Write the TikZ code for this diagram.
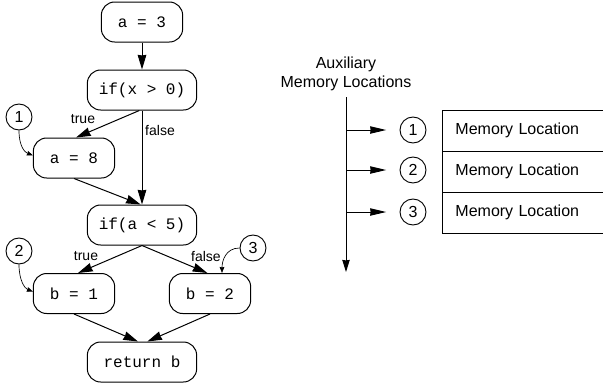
\documentclass[tikz,border=0pt]{standalone}
\usepackage{fontspec}
\setmainfont{Liberation Sans}
\newfontfamily\codefont{Liberation Mono}
\usetikzlibrary{arrows.meta}

\tikzset{
  codebox/.style={draw, line width=0.75pt, rounded corners=10pt, inner sep=0pt,
    minimum height=30pt, font=\codefont\fontsize{12}{14}\selectfont},
  narrow/.style={codebox, minimum width=61pt},
  wide/.style={codebox, minimum width=82pt},
  marker/.style={draw, circle, line width=0.7pt, inner sep=0pt, minimum size=19.5pt,
    font=\fontsize{12}{14}\selectfont},
  flow/.style={line width=0.75pt, -{Stealth[length=11pt,width=6.5pt,inset=0.5pt]}},
  hook/.style={line width=0.5pt, -{Stealth[length=4.5pt,width=3.5pt,inset=0.3pt]}},
  branch/.style={font=\fontsize{10.5}{12}\selectfont},
  memrow/.style={draw, line width=0.7pt, anchor=west, minimum height=30.75pt,
    text width=112pt, inner xsep=9.75pt, align=left, font=\fontsize{12}{14}\selectfont},
}

\begin{document}
\begin{tikzpicture}[x=0.75pt, y=-0.75pt]
\clip (0,0) rectangle (603,387);
\useasboundingbox (0,0) rectangle (603,387);

% control-flow graph
\node[narrow] (a3)  at (142,22)    {a = 3};
\node[wide]   (if1) at (142,90)    {if(x > 0)};
\node[narrow] (a8)  at (74,158)    {a = 8};
\node[wide]   (if2) at (142,225)   {if(a < 5)};
\node[narrow] (b1)  at (74,293.5)  {b = 1};
\node[narrow] (b2)  at (210,293.5) {b = 2};
\node[wide]   (ret) at (142,362)   {return b};

\node[marker] (c1) at (19,117) {1};
\node[marker] (c2) at (19,251) {2};
\node[marker] (c3) at (253,248) {3};

\draw[flow] (a3.south) -- (if1.north);
\draw[flow] ([xshift=-2pt]if1.south) -- ([xshift=1.5pt]a8.north);
\draw[flow] (if1.south) -- (if2.north);
\draw[flow] (a8.south) -- ([xshift=-1pt]if2.north);
\draw[flow] (if2.south) -- ([xshift=3pt]b1.north);
\draw[flow] (if2.south) -- ([xshift=-2pt]b2.north);
\draw[flow] (b1.south) -- ([xshift=-3pt]ret.north);
\draw[flow] (b2.south) -- ([xshift=4pt]ret.north);

\node[branch] (t1) at (83,119)  {true};
\node[branch] (f1) at (160,130) {false};
\node[branch] (t2) at (86,256)  {true};
\node[branch] (f2) at (206,256) {false};

\draw[hook] (c1.south) .. controls +(0,16) and +(-8,-3) .. ([yshift=2pt]a8.west);
\draw[hook] (c2.south) .. controls +(0,16) and +(-8,-3) .. ([yshift=1.5pt]b1.west);
\draw[hook] (c3.west) .. controls +(-14,0) and +(0,-12) .. ([xshift=9pt]b2.north);

% auxiliary memory locations
\node[align=center, font=\fontsize{12}{14.25}\selectfont] (aux) at (346,73.5)
  {Auxiliary\\Memory Locations};
\coordinate (top) at (346,97);
\coordinate (bot) at (346,272);
\draw[line width=0.75pt, -{Stealth[length=9pt,width=5.5pt,inset=0.3pt]}] (top) -- (bot);

\node[marker] (m1) at (413,130) {1};
\node[marker] (m2) at (413,170) {2};
\node[marker] (m3) at (413,212) {3};

\foreach \k/\y in {1/130,2/170,3/212}{
  \coordinate (s\k) at (346,\y);
  \draw[line width=0.75pt, -{Stealth[length=12pt,width=5.5pt,inset=0.3pt]}]
    (s\k) -- ([xshift=-10pt]m\k.west);
}

\node[memrow] (r1) at (442,130.5) {Memory Location};
\node[memrow] (r2) at (442,171.5) {Memory Location};
\node[memrow] (r3) at (442,212.5) {Memory Location};
\end{tikzpicture}
\end{document}
